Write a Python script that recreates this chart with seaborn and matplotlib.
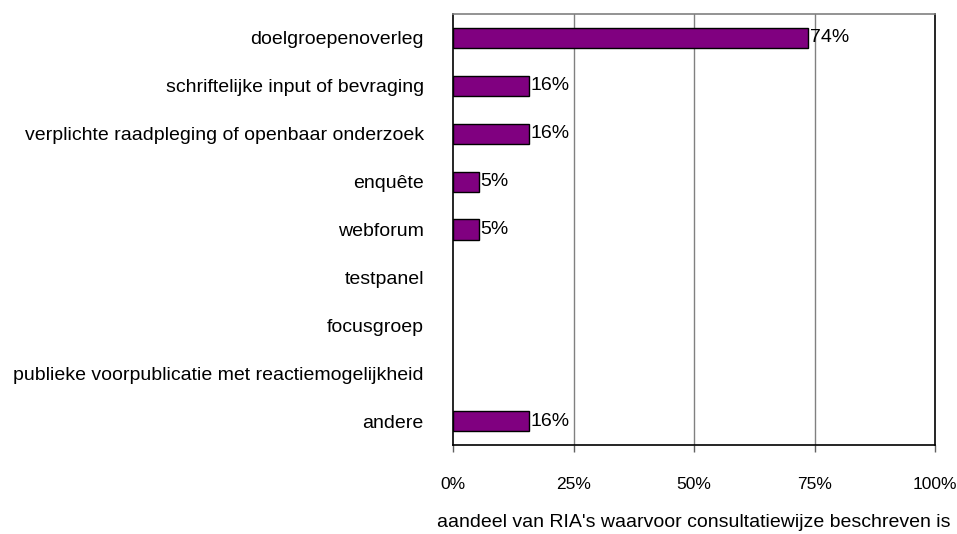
import matplotlib
matplotlib.use("Agg")
import matplotlib.pyplot as plt
import seaborn as sns
import pandas as pd
from matplotlib.ticker import FuncFormatter

categories = [
    "doelgroepenoverleg",
    "schriftelijke input of bevraging",
    "verplichte raadpleging of openbaar onderzoek",
    "enquête",
    "webforum",
    "testpanel",
    "focusgroep",
    "publieke voorpublicatie met reactiemogelijkheid",
    "andere",
]
values = [73.7, 15.8, 15.8, 5.3, 5.3, 0, 0, 0, 15.8]
labels = ["74%", "16%", "16%", "5%", "5%", "", "", "", "16%"]
x_ticks = [0, 25, 50, 75, 100]
x_label = "aandeel van RIA's waarvoor consultatiewijze beschreven is"

sns.set_theme(style="white")
plt.rcParams["font.family"] = ["Liberation Sans", "DejaVu Sans"]
plt.rcParams["text.color"] = "black"
plt.rcParams["axes.labelcolor"] = "black"
plt.rcParams["xtick.color"] = "black"
plt.rcParams["ytick.color"] = "black"

FS = 14

df = pd.DataFrame({"cat": categories, "val": values})

fig = plt.figure(figsize=(9.57, 5.34), dpi=100)
ax = fig.add_axes([453 / 957, 1 - 445 / 534, (935 - 453) / 957, (445 - 14) / 534])

sns.barplot(data=df, x="val", y="cat", orient="h", color="#800080",
            edgecolor="black", linewidth=1.0, width=0.42, saturation=1, ax=ax)
for p in ax.patches:
    if p.get_width() == 0:
        p.set_visible(False)

for i, (v, lab) in enumerate(zip(values, labels)):
    if lab:
        ax.text(v + 0.3, i, lab, va="center", ha="left", fontsize=FS, color="black")

ax.set_xlim(0, 100)
ax.set_ylim(len(categories) - 0.5, -0.5)
ax.set_xticks(x_ticks)
ax.xaxis.set_major_formatter(FuncFormatter(lambda v, p: f"{int(v)}%"))
ax.tick_params(axis="x", which="both", bottom=True, length=5, width=1,
               color="#606060", pad=18, labelsize=12.5, labelcolor="black")
ax.tick_params(axis="y", left=False, pad=15, labelsize=FS, labelcolor="black")
for g in [25, 50, 75]:
    ax.axvline(g, color="#808080", linewidth=1, zorder=0)
ax.set_ylabel("")
ax.set_xlabel(x_label, fontsize=FS, labelpad=16, color="black")

for s in ["left", "bottom", "right"]:
    ax.spines[s].set_color("black")
    ax.spines[s].set_linewidth(1.2)
ax.spines["top"].set_color("#808080")
ax.spines["top"].set_linewidth(1.2)

fig.savefig("out.png", dpi=100)
